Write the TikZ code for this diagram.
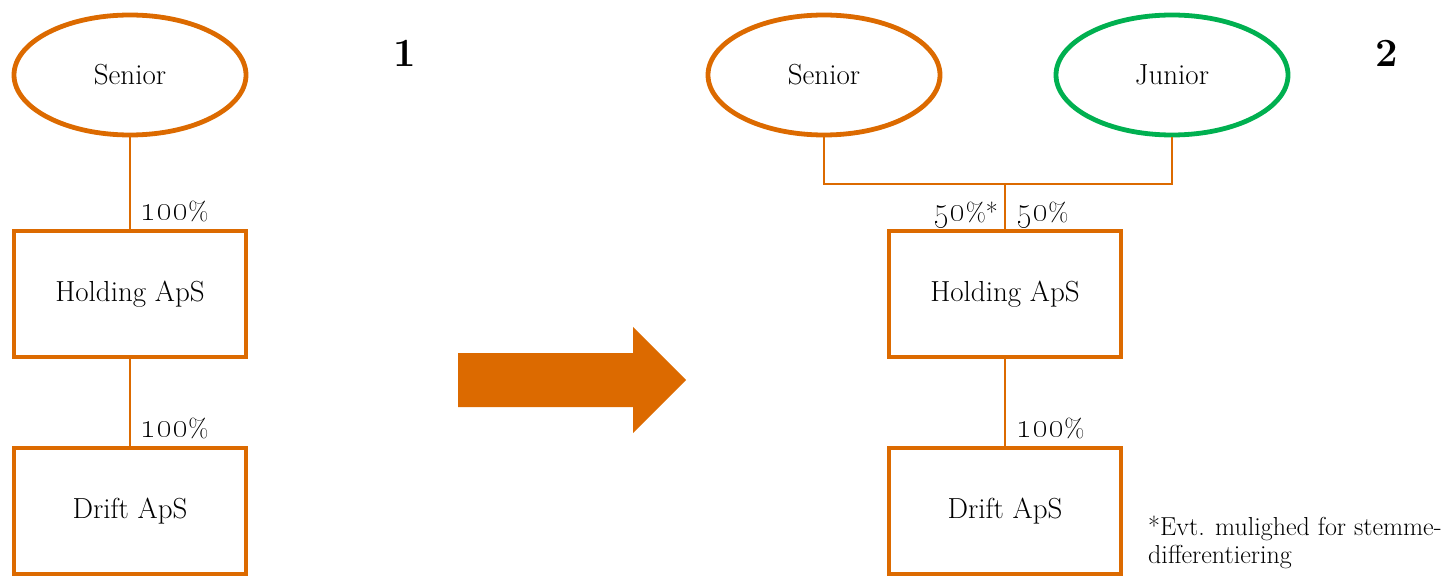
\documentclass[tikz,border=0pt]{standalone}
\usetikzlibrary{shapes.geometric}
\definecolor{ownorange}{HTML}{DC6A00}
\definecolor{owngreen}{HTML}{00B050}
% old-style digits enlarged so they sit well beside the percent sign
\newcommand{\pct}[1]{{\fontsize{35}{35}\selectfont\oldstylenums{#1}}\%}
\begin{document}
\begin{tikzpicture}[x=1pt,y=-1pt,
  owner/.style={ellipse,draw=ownorange,line width=4.8pt,minimum width=232pt,minimum height=120pt,inner sep=0pt,font=\fontsize{29}{33}\selectfont},
  company/.style={rectangle,draw=ownorange,line width=4.8pt,minimum width=232pt,minimum height=126pt,inner sep=0pt,font=\fontsize{29}{33}\selectfont},
  link/.style={draw=ownorange,line width=1.6pt},
  share/.style={inner sep=0pt,font=\fontsize{26}{30}\selectfont},
  note/.style={inner sep=0pt,anchor=base west,font=\fontsize{26}{28}\selectfont},
  stagenum/.style={inner sep=0pt,font=\fontsize{40}{44}\selectfont\bfseries}
]
\useasboundingbox (0,0) rectangle (1451,577);

% stage 1
\node[owner] (s1) at (130,75) {Senior};
\node[company] (h1) at (130,294) {Holding ApS};
\node[company] (d1) at (130,511) {Drift ApS};
\draw[link] (s1.south) -- (h1.north);
\draw[link] (h1.south) -- (d1.north);
\node[share,anchor=base west] (p1) at (140,221) {\pct{100}};
\node[share,anchor=base west] (p2) at (140,437) {\pct{100}};
\node[stagenum] (n1) at (405,53) {1};

% transition arrow
\fill[ownorange] (458,353) -- (633,353) -- (633,327) -- (686,380) -- (633,433) -- (633,407) -- (458,407) -- cycle;

% stage 2
\node[owner] (s2) at (824,75) {Senior};
\node[owner,draw=owngreen] (j2) at (1172,75) {Junior};
\node[company] (h2) at (1005,294) {Holding ApS};
\node[company] (d2) at (1005,511) {Drift ApS};
\coordinate (m2) at (1005,184);
\draw[link] (s2.south) |- (m2) -| (j2.south);
\draw[link] (m2) -- (h2.north);
\draw[link] (h2.south) -- (d2.north);
\node[share,anchor=base east] (p3) at (998,222) {\pct{50}*};
\node[share,anchor=base west] (p4) at (1016,222) {\pct{50}};
\node[share,anchor=base west] (p5) at (1016,437) {\pct{100}};
\node[stagenum] (n2) at (1387,53) {2};

% footnote
\node[note] (fn1) at (1148,535) {*Evt. mulighed for stemme-};
\node[note] (fn2) at (1148,563) {differentiering};
\end{tikzpicture}
\end{document}
